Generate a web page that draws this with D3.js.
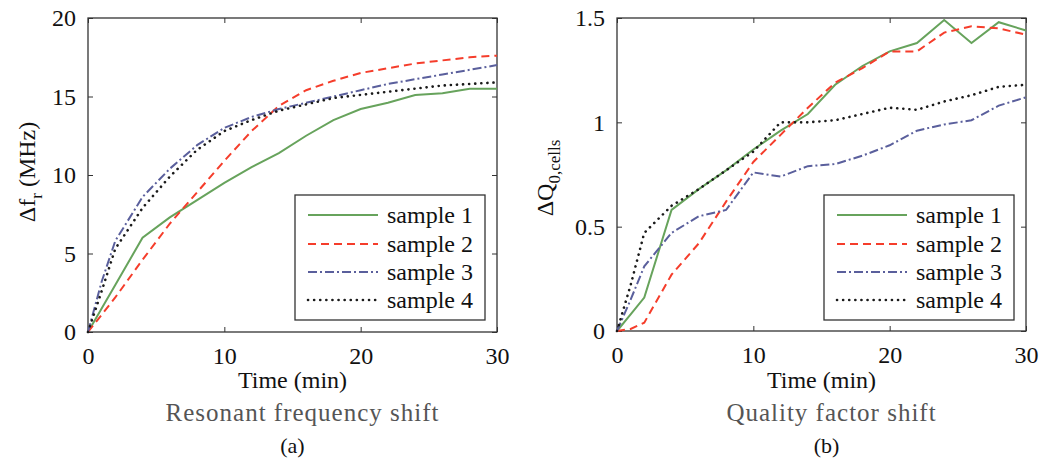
<!DOCTYPE html>
<html>
<head>
<meta charset="utf-8">
<script src="https://cdn.jsdelivr.net/npm/d3@7"></script>
<style>
  body { margin: 0; background: #fff; }
  svg text { font-family: "Liberation Serif", "Times New Roman", serif; }
</style>
</head>
<body>
<div id="chart"></div>
<script>
// time points (min), shared by all series
var timeMin = [0, 1, 2, 4, 6, 8, 10, 12, 14, 16, 18, 20, 22, 24, 26, 28, 30]

// (a) resonant frequency shift, MHz
var freqS1 = [0, 1.5, 3.0, 6.0, 7.3, 8.4, 9.5, 10.5, 11.4, 12.5, 13.5, 14.2, 14.6, 15.1, 15.2, 15.5, 15.5]
var freqS2 = [0, 1.1, 2.2, 4.6, 6.9, 8.9, 10.9, 12.8, 14.4, 15.4, 16.0, 16.5, 16.8, 17.1, 17.3, 17.5, 17.6]
var freqS3 = [0, 3.2, 5.8, 8.6, 10.4, 11.9, 13.0, 13.7, 14.2, 14.6, 15.0, 15.4, 15.8, 16.1, 16.4, 16.7, 17.0]
var freqS4 = [0, 2.6, 5.3, 7.9, 9.9, 11.6, 12.8, 13.5, 14.1, 14.5, 14.9, 15.1, 15.3, 15.5, 15.7, 15.8, 15.9]

// (b) quality factor shift
var qS1 = [0, 0.08, 0.16, 0.58, 0.68, 0.77, 0.87, 0.96, 1.04, 1.18, 1.27, 1.34, 1.38, 1.49, 1.38, 1.48, 1.44]
var qS2 = [0, 0.01, 0.04, 0.27, 0.42, 0.62, 0.81, 0.94, 1.07, 1.19, 1.26, 1.34, 1.34, 1.43, 1.46, 1.45, 1.42]
var qS3 = [0, 0.15, 0.31, 0.47, 0.55, 0.58, 0.76, 0.74, 0.79, 0.80, 0.84, 0.89, 0.96, 0.99, 1.01, 1.08, 1.12]
var qS4 = [0, 0.22, 0.47, 0.60, 0.68, 0.77, 0.86, 1.00, 1.00, 1.01, 1.04, 1.07, 1.06, 1.10, 1.13, 1.17, 1.18]

var sampleNames = ["sample 1", "sample 2", "sample 3", "sample 4"]
var xTicks = [0, 10, 20, 30]
var freqTicks = [0, 5, 10, 15, 20]
var qTicks = [0, 0.5, 1, 1.5]

// line styles per sample
var styles = [
    {color: "#67a35c", dash: null, width: 2, cap: "butt"},
    {color: "#f53d2b", dash: "8,5", width: 2, cap: "butt"},
    {color: "#5a5f9c", dash: "9,3,2,3", width: 2, cap: "butt"},
    {color: "#1a1a1a", dash: "0.1,6", width: 2.6, cap: "round"}
]

var svg = d3.select("#chart").append("svg")
    .attr("width", 1044)
    .attr("height", 462)

function drawPanel(p) {
    var g = svg.append("g")
    var x = d3.scaleLinear().domain([0, 30]).range([p.left, p.right])
    var y = d3.scaleLinear().domain(p.yDomain).range([p.bottom, p.top])
    var tk = 5

    // inside ticks on all four sides
    g.append("g").attr("transform", `translate(0,${p.bottom})`)
        .call(d3.axisBottom(x).tickValues(xTicks).tickSize(-tk).tickPadding(tk + 10))
    g.append("g").attr("transform", `translate(0,${p.top})`)
        .call(d3.axisTop(x).tickValues(xTicks).tickSize(-tk).tickFormat(""))
    g.append("g").attr("transform", `translate(${p.left},0)`)
        .call(d3.axisLeft(y).tickValues(p.yTicks).tickSize(-tk).tickPadding(tk + 7).tickFormat(p.yFormat))
    g.append("g").attr("transform", `translate(${p.right},0)`)
        .call(d3.axisRight(y).tickValues(p.yTicks).tickSize(-tk).tickFormat(""))

    g.selectAll(".domain").attr("stroke", "none")
    g.selectAll(".tick line").attr("stroke", "#333").attr("stroke-width", 1)
    g.selectAll(".tick text").attr("font-size", 24).attr("fill", "#111")
        .attr("font-family", "Liberation Serif")

    g.append("rect")
        .attr("x", p.left).attr("y", p.top)
        .attr("width", p.right - p.left).attr("height", p.bottom - p.top)
        .attr("fill", "none").attr("stroke", "#333").attr("stroke-width", 1.3)

    var line = d3.line().x((d, i) => x(timeMin[i])).y(d => y(d))
    p.series.forEach(function(s, i) {
        g.append("path")
            .datum(s)
            .attr("d", line)
            .attr("fill", "none")
            .attr("stroke", styles[i].color)
            .attr("stroke-width", styles[i].width)
            .attr("stroke-dasharray", styles[i].dash)
            .attr("stroke-linecap", styles[i].cap)
    })

    // legend
    var lg = g.append("g")
    lg.append("rect")
        .attr("x", p.left + 207).attr("y", 195)
        .attr("width", 190).attr("height", 125)
        .attr("fill", "#fff").attr("stroke", "#333").attr("stroke-width", 1.3)
    var rows = [215, 244, 272, 300]
    sampleNames.forEach(function(name, i) {
        lg.append("line")
            .attr("x1", p.left + 220).attr("x2", p.left + 290)
            .attr("y1", rows[i]).attr("y2", rows[i])
            .attr("stroke", styles[i].color)
            .attr("stroke-width", styles[i].width)
            .attr("stroke-dasharray", styles[i].dash)
            .attr("stroke-linecap", styles[i].cap)
        lg.append("text")
            .attr("x", p.left + 299).attr("y", rows[i])
            .attr("dominant-baseline", "central")
            .attr("font-size", 24).attr("fill", "#111")
            .text(name)
    })

    var cx = (p.left + p.right) / 2
    g.append("text").attr("x", cx).attr("y", 388)
        .attr("text-anchor", "middle").attr("font-size", 24).attr("fill", "#111")
        .text("Time (min)")
    g.append("text").attr("x", cx + p.subShift).attr("y", 421)
        .attr("text-anchor", "middle").attr("font-size", 25).attr("fill", "#555")
        .attr("letter-spacing", 1)
        .text(p.subtitle)
    g.append("text").attr("x", cx + p.tagShift).attr("y", 453)
        .attr("text-anchor", "middle").attr("font-size", 22).attr("fill", "#111")
        .text(p.tag)

    // rotated y label with subscript
    var yl = g.append("text")
        .attr("transform", `translate(${p.labelX},${p.labelY}) rotate(-90)`)
        .attr("text-anchor", "middle").attr("font-size", 24).attr("fill", "#111")
    yl.append("tspan").text(p.yMain)
    yl.append("tspan").attr("dy", 7).attr("font-size", 17).text(p.ySub)
    if (p.yTail) yl.append("tspan").attr("dy", -7).text(p.yTail)
}

drawPanel({
    left: 88, right: 497, top: 18, bottom: 332,
    yDomain: [0, 20], yTicks: freqTicks, yFormat: d3.format("d"),
    series: [freqS1, freqS2, freqS3, freqS4],
    subtitle: "Resonant frequency shift", subShift: 10, tag: "(a)", tagShift: 0,
    labelX: 35, labelY: 172, yMain: "\u0394f", ySub: "r", yTail: " (MHz)"
})

drawPanel({
    left: 617, right: 1026, top: 18, bottom: 331,
    yDomain: [0, 1.5], yTicks: qTicks, yFormat: d => d,
    series: [qS1, qS2, qS3, qS4],
    subtitle: "Quality factor shift", subShift: 10, tag: "(b)", tagShift: 5,
    labelX: 553, labelY: 178, yMain: "\u0394Q", ySub: "0,cells", yTail: null
})
</script>
</body>
</html>
